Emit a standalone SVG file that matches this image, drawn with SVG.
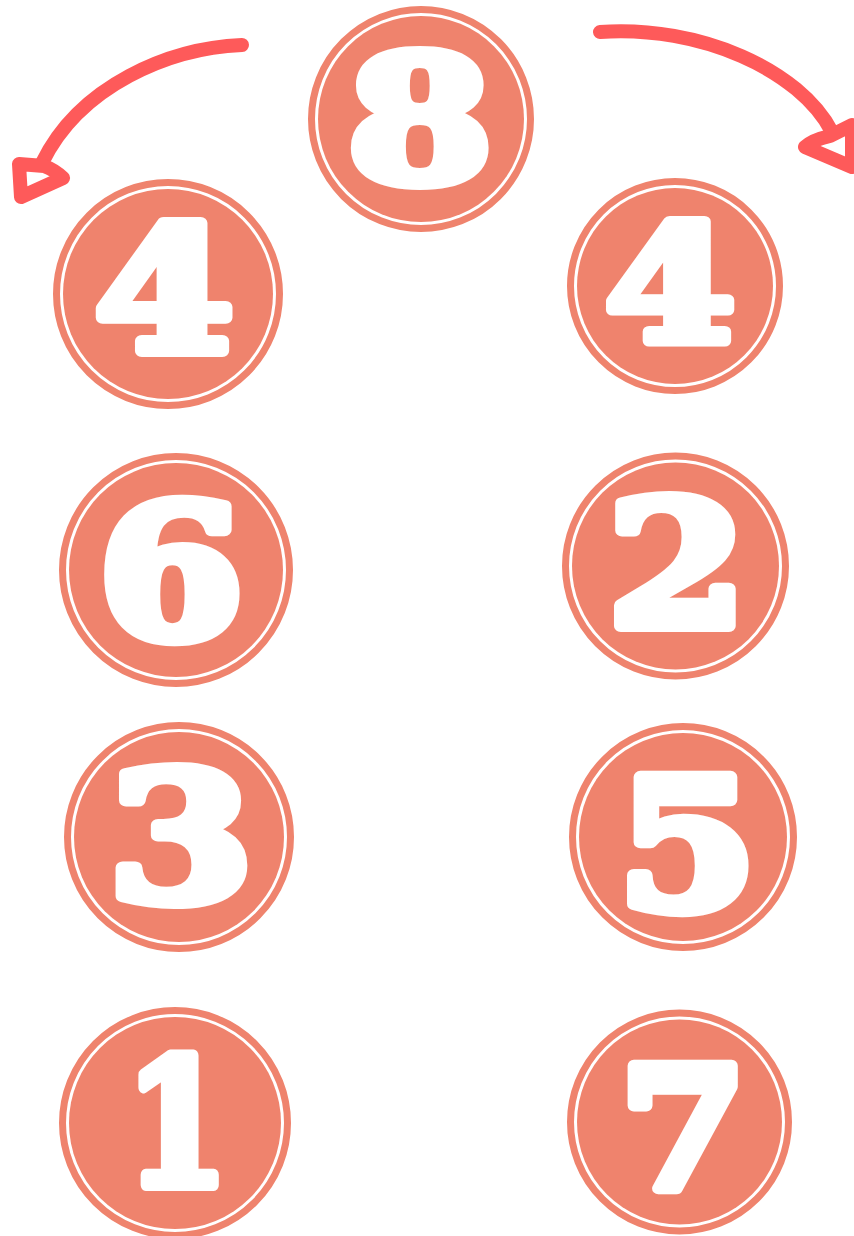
<svg xmlns="http://www.w3.org/2000/svg" width="854" height="1236" viewBox="0 0 854 1236">
<style>
.ring{fill:none;stroke:#EF836D;stroke-width:7}
.disc{fill:#EF836D}
.num{font-family:"DejaVu Serif","Liberation Serif",serif;font-weight:bold;font-size:174px;fill:#FFFFFF;stroke:#FFFFFF;stroke-width:12;stroke-linejoin:round;text-anchor:middle}
.arrow{fill:none;stroke:#FE5A5A;stroke-width:14;stroke-linecap:round;stroke-linejoin:round}
</style>
<rect width="854" height="1236" fill="#FFFFFF"/>
<g id="connectors">
  <path class="arrow" d="M242,45 C170,48 80,85 42,163"/>
  <path class="arrow" d="M44,166 L19,164 L21,197 L63,178 Q55,170 44,166 Z" stroke-width="12.5"/>
  <path class="arrow" d="M600,32 C700,25 800,70 832,132"/>
  <path class="arrow" d="M830,136 L852,125 L852,167 L805,147 Q812,140 830,136 Z" stroke-width="12.5"/>
</g>
<g id="node-8">
  <circle class="ring" cx="421" cy="119" r="109.5"/>
  <circle class="disc" cx="421" cy="119" r="103"/>
  <text class="num" transform="translate(420,182) scale(1.2,1)">8</text>
</g>
<g id="node-4-left">
  <circle class="ring" cx="168" cy="294" r="111.5"/>
  <circle class="disc" cx="168" cy="294" r="105"/>
  <text class="num" transform="translate(164,351) scale(1.15,0.985)">4</text>
</g>
<g id="node-4-right">
  <circle class="ring" cx="675" cy="286" r="104.5"/>
  <circle class="disc" cx="675" cy="286" r="98"/>
  <text class="num" transform="translate(670,341) scale(1.08,0.93)">4</text>
</g>
<g id="node-6">
  <circle class="ring" cx="176" cy="570" r="113.5"/>
  <circle class="disc" cx="176" cy="570" r="107"/>
  <text class="num" transform="translate(171,637) scale(1.2,1.05)">6</text>
</g>
<g id="node-2">
  <circle class="ring" cx="675.5" cy="566" r="110"/>
  <circle class="disc" cx="675.5" cy="566" r="103.5"/>
  <text class="num" transform="translate(677,626) scale(1.15,1)">2</text>
</g>
<g id="node-3">
  <circle class="ring" cx="179" cy="837" r="111.5"/>
  <circle class="disc" cx="179" cy="837" r="105"/>
  <text class="num" transform="translate(181,900) scale(1.2,1.02)">3</text>
</g>
<g id="node-5">
  <circle class="ring" cx="683" cy="837" r="110.5"/>
  <circle class="disc" cx="683" cy="837" r="104"/>
  <text class="num" transform="translate(687,908) scale(1.15,1.03)">5</text>
</g>
<g id="node-1">
  <circle class="ring" cx="175" cy="1123" r="112.5"/>
  <circle class="disc" cx="175" cy="1123" r="106"/>
  <text class="num" transform="translate(177,1185) scale(0.85,1)">1</text>
</g>
<g id="node-7">
  <circle class="ring" cx="679.5" cy="1122" r="109"/>
  <circle class="disc" cx="679.5" cy="1122" r="102.5"/>
  <text class="num" transform="translate(683,1189) scale(1.05,0.97)">7</text>
</g>
</svg>
